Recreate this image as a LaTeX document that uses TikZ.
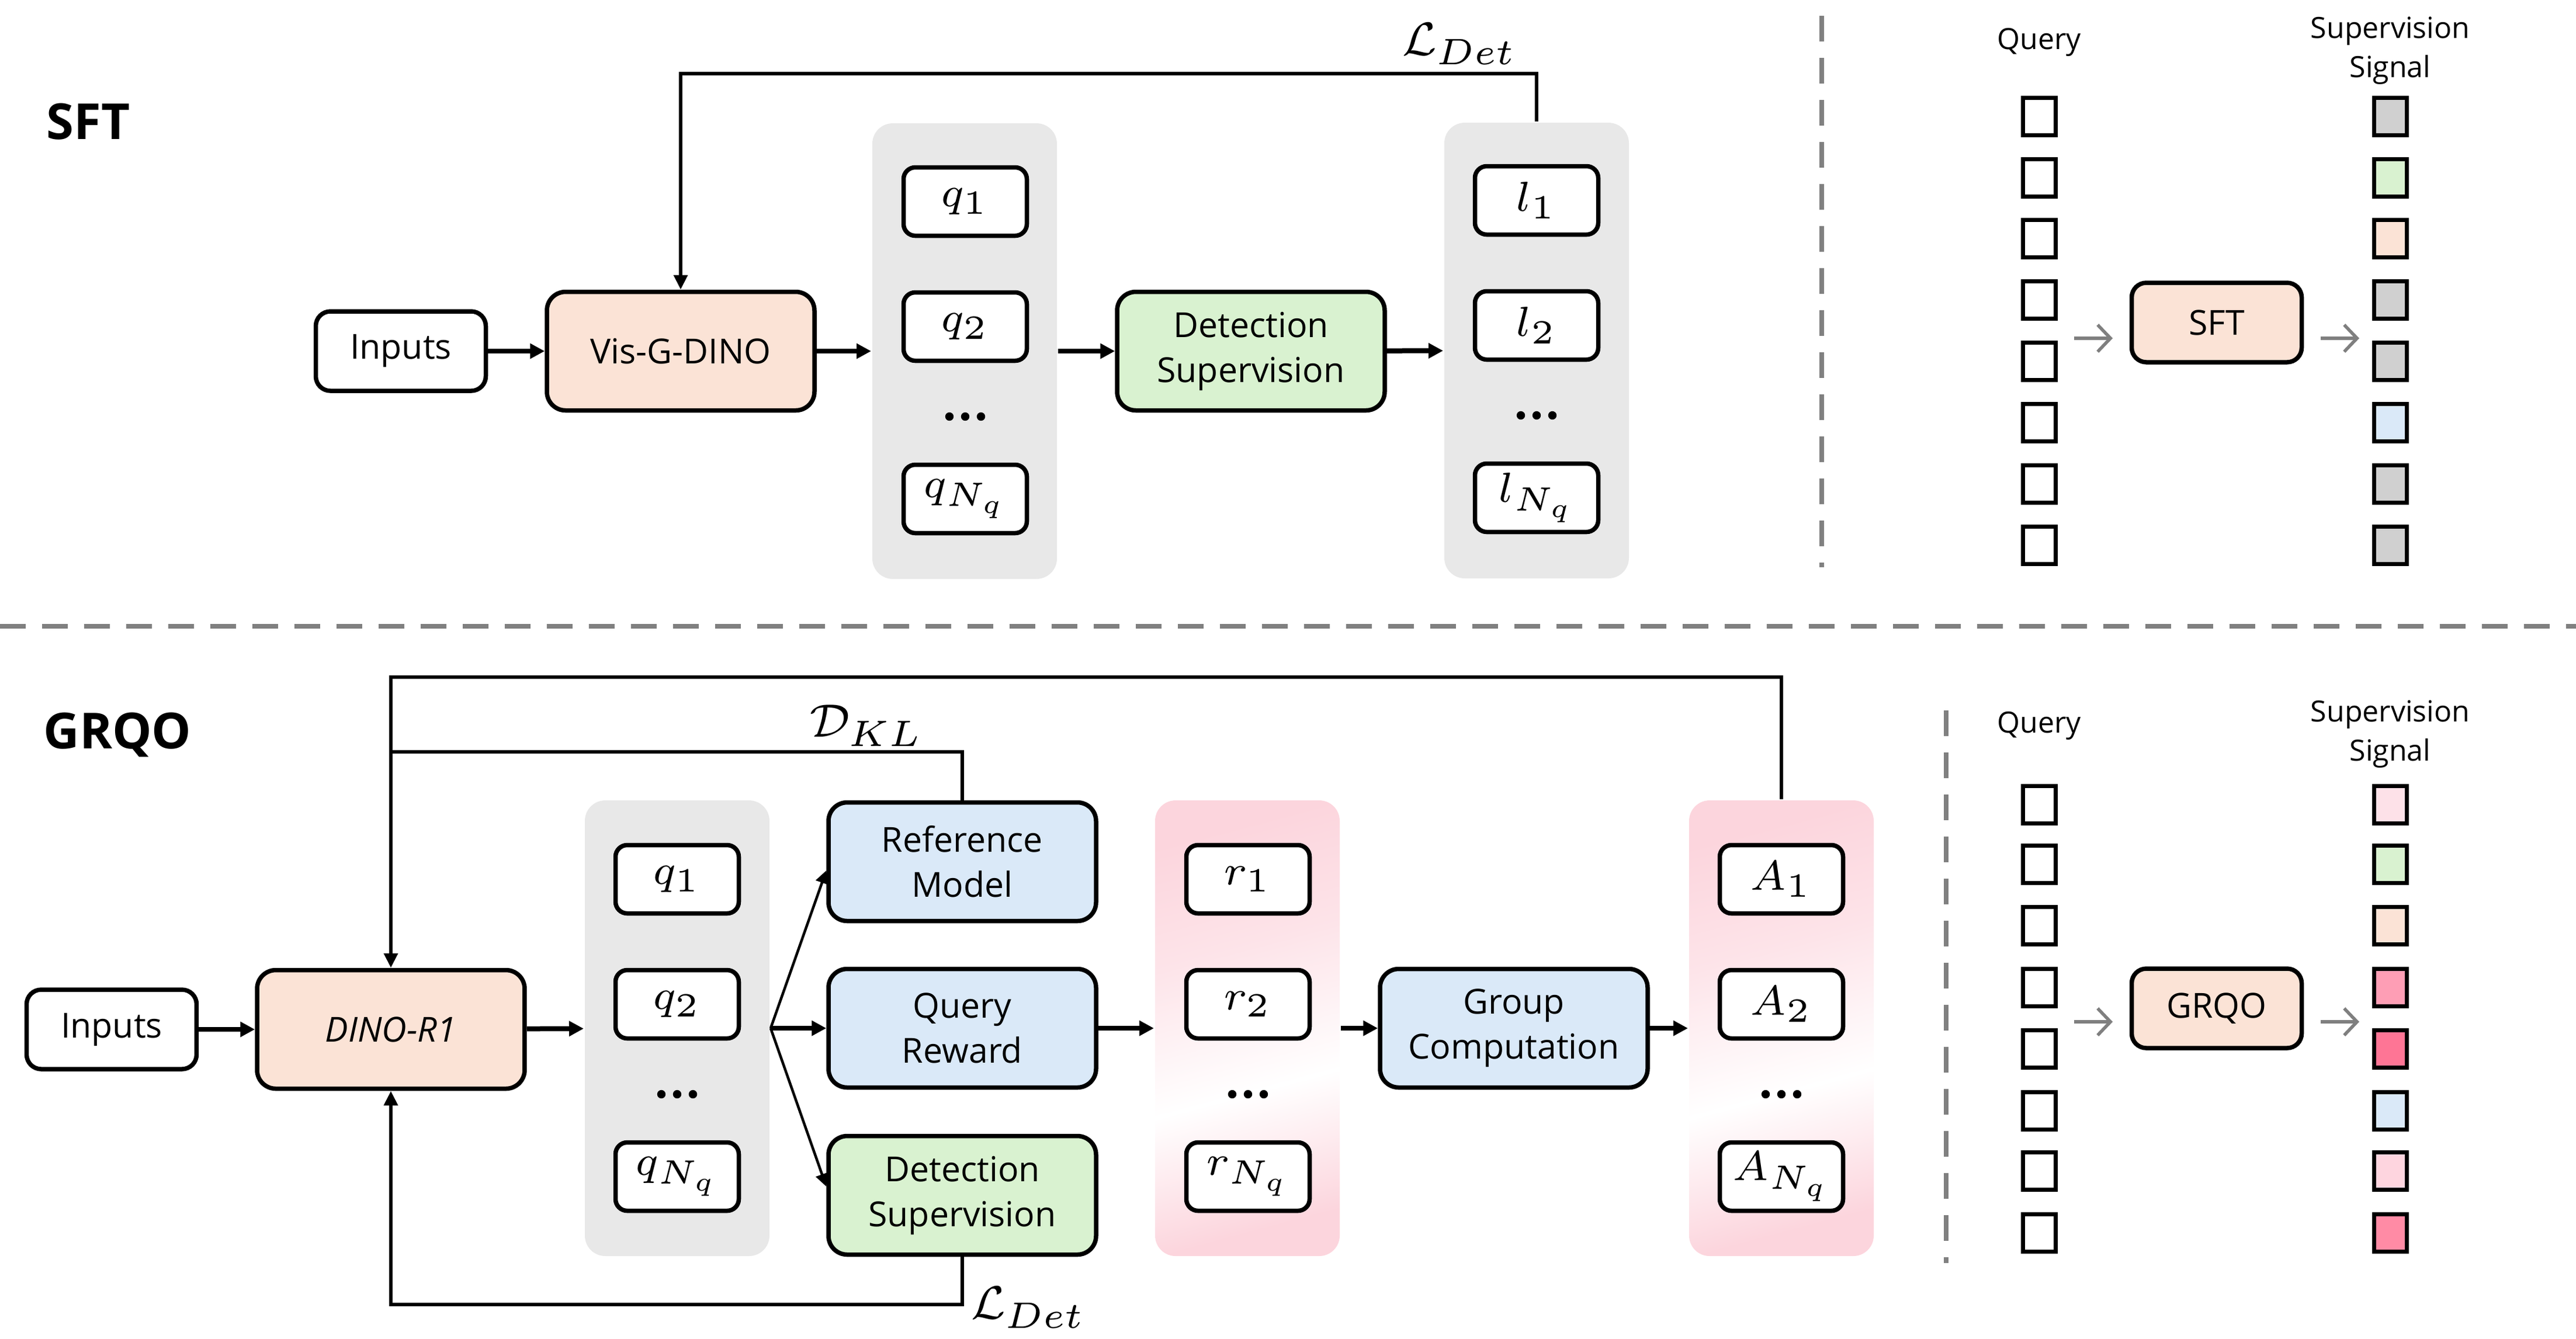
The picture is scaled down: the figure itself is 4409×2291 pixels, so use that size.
\RequirePackage{fix-cm}
\documentclass[tikz,border=0pt]{standalone}
\usepackage[no-math]{fontspec}
\setmainfont{Open Sans}
\usetikzlibrary{arrows.meta,calc}
\DeclareMathSizes{7.2}{7.2}{5.8}{4.6}
\DeclareMathSizes{8}{8}{6.3}{5}
\definecolor{peach}{HTML}{FBE3D6}
\definecolor{mint}{HTML}{D9F2D0}
\definecolor{sky}{HTML}{DAE9F8}
\definecolor{colgray}{HTML}{E8E8E8}
\definecolor{pinkcol}{HTML}{FCD5DD}
\definecolor{sgray}{HTML}{D0D0D0}
\definecolor{spa}{HTML}{FDE1E8}
\definecolor{spb}{HTML}{FE9EB5}
\definecolor{spc}{HTML}{FE7595}
\definecolor{spd}{HTML}{FED5DF}
\definecolor{spe}{HTML}{FF8BA5}
\definecolor{dashgray}{HTML}{808080}
\definecolor{arrgray}{HTML}{7F7F7F}
\pgfdeclareverticalshading{pinkshade}{100bp}{color(0bp)=(pinkcol); color(25bp)=(pinkcol); color(42bp)=(white); color(60bp)=(pinkcol!65!white); color(75bp)=(pinkcol); color(100bp)=(pinkcol)}
\tikzset{
  box/.style={draw, line width=0.75pt, align=center, inner sep=0pt,
    font=\fontsize{5.9}{7.7}\selectfont},
  big/.style={box, rounded corners=3.2pt, minimum width=45.8pt, minimum height=20.3pt},
  small/.style={box, rounded corners=2.5pt, minimum width=29.1pt, minimum height=13.6pt},
  qbox/.style={draw, fill=white, line width=0.75pt, rounded corners=2pt,
    minimum width=21.1pt, minimum height=11.7pt, inner sep=0pt,
    font=\fontsize{7.2}{8}\selectfont},
  col/.style={rounded corners=3.5pt, minimum width=31.6pt, minimum height=78pt, inner sep=0pt},
  pinkcolumn/.style={col, shade, shading=pinkshade, shading angle=15},
  graycolumn/.style={col, fill=colgray},
  sq/.style={draw, line width=0.7pt, minimum width=5.6pt, minimum height=6.4pt, inner sep=0pt},
  arr/.style={line width=0.85pt, -{Triangle[length=2.5pt,width=2.5pt]}},
  fork/.style={line width=0.45pt, -{Triangle[length=2.2pt,width=2.2pt]}},
  fb/.style={line width=0.65pt},
  fbarr/.style={line width=0.65pt, -{Triangle[length=2.5pt,width=2.3pt]}},
  sep/.style={draw=dashgray, line width=0.75pt, dash pattern=on 4.4pt off 2.8pt},
  garr/.style={draw=arrgray, line width=0.55pt, -{Straight Barb[length=2.2pt,width=4.6pt]}},
  title/.style={font=\fontsize{8.5}{10}\selectfont\bfseries, inner sep=0pt},
  lbl/.style={font=\fontsize{5}{6.7}\selectfont, align=center, inner sep=0pt},
  mlbl/.style={font=\fontsize{8}{9}\selectfont, inner sep=0pt},
}
\newcommand{\threedots}[2]{%
  \foreach \dd in {-27,0,27} {\fill ($(#1,#2)+(\dd,0)$) circle[radius=0.72pt];}}
\begin{document}
\begin{tikzpicture}[x=0.1pt, y=-0.1pt]
\useasboundingbox (0,0) rectangle (4409,2291);

% ---------------- SFT ----------------
\node[title] (tsft) at (151,208) {SFT};
\node[small, fill=white] (in1) at (686,601) {Inputs};
\node[big, fill=peach] (vis) at (1165,601) {Vis-G-DINO};
\node[graycolumn] (c1) at (1651,601) {};
\node[qbox] (q11) at (1652,345) {$q_1$};
\node[qbox] (q12) at (1652,559) {$q_2$};
\node[qbox] (q1n) at (1652,854) {$q_{N_q}$};
\threedots{1652}{713}
\node[big, fill=mint] (ds1) at (2141,601) {Detection\\Supervision};
\node[graycolumn] (c2) at (2630,600) {};
\node[qbox] (l1) at (2630,343) {$l_1$};
\node[qbox] (l2) at (2630,557) {$l_2$};
\node[qbox] (ln) at (2630,852) {$l_{N_q}$};
\threedots{2630}{711}

\draw[arr] (in1) -- (vis);
\draw[arr] (vis) -- (c1);
\draw[arr] (c1) -- (ds1);
\draw[arr] (ds1) -- (c2);
\coordinate (ylt) at (0,126);
\draw[fbarr] (c2.north) -- (c2.north |- ylt) -| (vis.north);
\node[mlbl, anchor=east] (ldet1) at (2598,75) {$\mathcal{L}_{Det}$};

% separators
\coordinate (sa1) at (3118,27);
\coordinate (sa2) at (3118,971);
\draw[sep] (sa1) -- (sa2);
\coordinate (sh1) at (0,1072);
\coordinate (sh2) at (4409,1072);
\draw[sep] (sh1) -- (sh2);
\coordinate (sb1) at (3331,1216);
\coordinate (sb2) at (3331,2162);
\draw[sep] (sb1) -- (sb2);

% right panel SFT
\node[lbl] (qlab1) at (3490,72) {Query};
\node[lbl] (slab1) at (4091,87) {Supervision\\Signal};
\foreach \i/\yy/\cc in {1/199/sgray,2/304/mint,3/408/peach,4/513/sgray,5/618/sgray,6/723/sky,7/828/sgray,8/933/sgray} {
  \node[sq, fill=white] (qa\i) at (3490,\yy) {};
  \node[sq, fill=\cc] (sa\i) at (4091,\yy) {};
}
\node[small, fill=peach] (sftb) at (3794,552) {SFT};
\coordinate (ga1) at (3550,579); \coordinate (ga2) at (3616,579);
\coordinate (ga3) at (3972,579); \coordinate (ga4) at (4038,579);
\draw[garr] (ga1) -- (ga2);
\draw[garr] (ga3) -- (ga4);

% ---------------- GRQO ----------------
\node[title] (tgrqo) at (201,1258) {GRQO};
\node[small, fill=white] (in2) at (191,1762) {Inputs};
\node[big, fill=peach] (dino) at (669,1762) {\itshape DINO-R1};
\node[graycolumn] (c3) at (1159,1760) {};
\node[qbox] (q21) at (1159,1505) {$q_1$};
\node[qbox] (q22) at (1159,1719) {$q_2$};
\node[qbox] (q2n) at (1159,2014) {$q_{N_q}$};
\threedots{1159}{1873}
\node[big, fill=sky] (ref) at (1647,1475) {Reference\\Model};
\node[big, fill=sky] (qr) at (1647,1760) {Query\\Reward};
\node[big, fill=mint] (ds2) at (1647,2046) {Detection\\Supervision};
\node[pinkcolumn] (c4) at (2135,1760) {};
\node[qbox] (r1) at (2136,1505) {$r_1$};
\node[qbox] (r2) at (2136,1719) {$r_2$};
\node[qbox] (rn) at (2136,2014) {$r_{N_q}$};
\threedots{2136}{1873}
\node[big, fill=sky] (grp) at (2591,1760) {Group\\Computation};
\node[pinkcolumn] (c5) at (3049,1760) {};
\node[qbox] (a1) at (3049,1505) {$A_1$};
\node[qbox] (a2) at (3049,1719) {$A_2$};
\node[qbox] (an) at (3049,2014) {$A_{N_q}$};
\threedots{3049}{1873}

\draw[arr] (in2) -- (dino);
\draw[arr] (dino) -- (c3);
\draw[fork] (c3.east) -- ([yshift=-1.5pt]ref.west);
\draw[arr] (c3.east) -- (qr.west);
\draw[fork] (c3.east) -- ([yshift=1.5pt]ds2.west);
\draw[arr] (qr) -- (c4);
\draw[arr] (c4) -- (grp);
\draw[arr] (grp) -- (c5);

\coordinate (ytop) at (0,1159);
\coordinate (ykl) at (0,1287);
\coordinate (ybot) at (0,2233);
\draw[fbarr] (c5.north) -- (c5.north |- ytop) -| (dino.north);
\draw[fb] (ref.north) -- (ref.north |- ykl) -- (dino.north |- ykl);
\draw[fbarr] (ds2.south) -- (ds2.south |- ybot) -| (dino.south);
\node[mlbl, anchor=east] (dkl) at (1582,1242) {$\mathcal{D}_{KL}$};
\node[mlbl, anchor=west] (ldet2) at (1660,2238) {$\mathcal{L}_{Det}$};

% right panel GRQO
\node[lbl] (qlab2) at (3490,1242) {Query};
\node[lbl] (slab2) at (4091,1257) {Supervision\\Signal};
\foreach \i/\yy/\cc in {1/1377/spa,2/1479/mint,3/1584/peach,4/1690/spb,5/1795/spc,6/1901/sky,7/2004/spd,8/2110/spe} {
  \node[sq, fill=white] (qb\i) at (3490,\yy) {};
  \node[sq, fill=\cc] (sb\i) at (4091,\yy) {};
}
\node[small, fill=peach] (grqob) at (3794,1726) {GRQO};
\coordinate (gb1) at (3550,1749); \coordinate (gb2) at (3616,1749);
\coordinate (gb3) at (3972,1749); \coordinate (gb4) at (4038,1749);
\draw[garr] (gb1) -- (gb2);
\draw[garr] (gb3) -- (gb4);
\end{tikzpicture}
\end{document}
